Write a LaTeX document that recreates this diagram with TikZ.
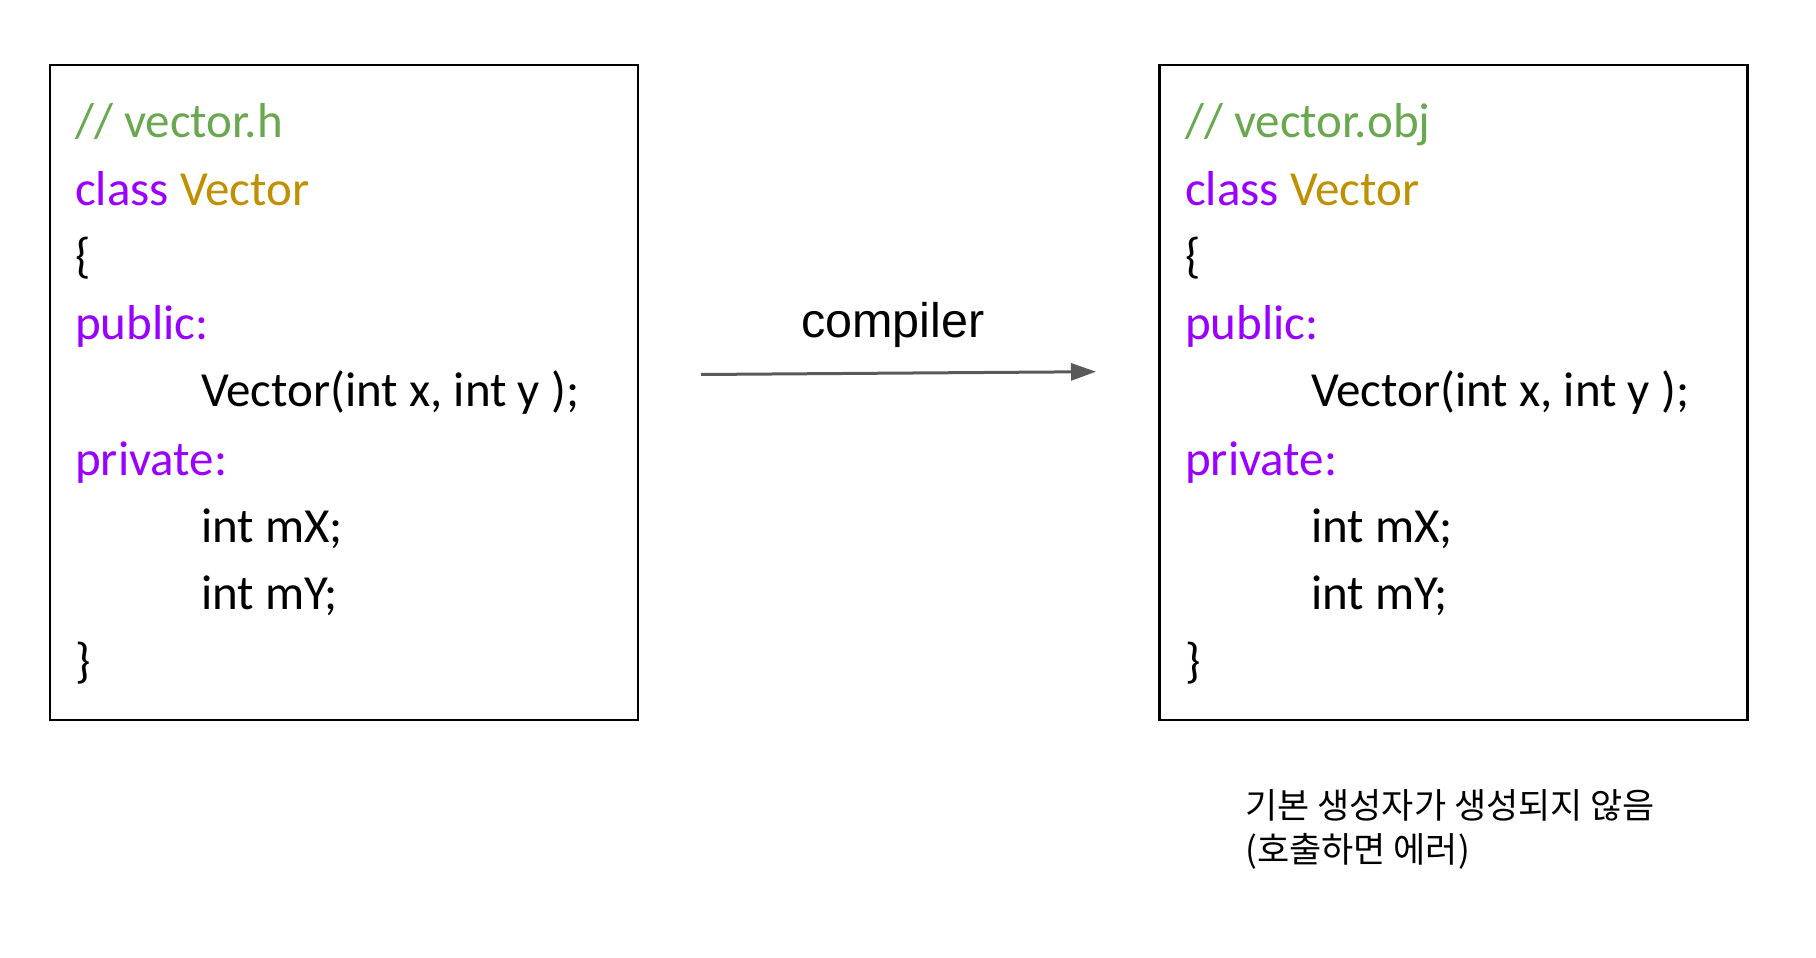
\documentclass[tikz,border=0pt]{standalone}
\usepackage{fontspec}
\setmainfont{Carlito}
\newfontfamily\arialfont{Liberation Sans}
\newfontfamily\krfont{Noto Sans CJK KR}
\usetikzlibrary{arrows.meta}
\definecolor{cmtgreen}{HTML}{6AA84F}
\definecolor{kwpurple}{HTML}{9900FF}
\definecolor{clsgold}{HTML}{BF9000}
\definecolor{arrowgray}{HTML}{595959}
\tikzset{
  codebox/.style={draw, line width=2.5pt, inner sep=0pt, minimum width=588pt, minimum height=655pt},
  codeline/.style={anchor=base west, inner sep=0pt, font=\fontsize{49}{58}\selectfont},
  flow/.style={draw=arrowgray, line width=3pt, -{Triangle[length=25pt, width=17pt]}}
}
\begin{document}
\begin{tikzpicture}[x=1pt, y=-1pt]
  \useasboundingbox (0,0) rectangle (1816,958);
  % los dos cuadros
  \node[codebox] (hbox) at (344,392.5) {};
  \node[codebox] (obox) at (1453.5,392.5) {};
  % el codigo de cada cuadro
  \node[codeline, text=cmtgreen] (hcmt) at (75,137) {// vector.h};
  \node[codeline, text=cmtgreen] (ocmt) at (1185,137) {// vector.obj};
  \foreach \s/\x in {h/75,o/1185} {
    \node[codeline] (\s cls) at (\x,205) {\textcolor{kwpurple}{class} \textcolor{clsgold}{Vector}};
    \node[codeline] (\s open) at (\x,272) {\{};
    \node[codeline, text=kwpurple] (\s pub) at (\x,339) {public:};
    \node[codeline] (\s ctor) at (\x+126,406) {Vector(int x, int y );};
    \node[codeline, text=kwpurple] (\s priv) at (\x,475) {private:};
    \node[codeline] (\s mx) at (\x+126,542) {int mX;};
    \node[codeline] (\s my) at (\x+126,609) {int mY;};
    \node[codeline] (\s close) at (\x,677) {\}};
  }
  % la flecha
  \coordinate (cstart) at (701,374.5);
  \coordinate (cend) at (1096,371.7);
  \draw[flow] (cstart) -- (cend);
  \node[anchor=base, inner sep=0pt, font=\arialfont\fontsize{48.5}{54}\selectfont] (comp) at (893,337) {compiler};
  % la nota
  \node[anchor=base west, inner sep=0pt, align=left, font=\krfont\fontsize{35}{44}\selectfont] (note) at (1245,862)
    {기본 생성자가 생성되지 않음\\(호출하면 에러)};
\end{tikzpicture}
\end{document}
